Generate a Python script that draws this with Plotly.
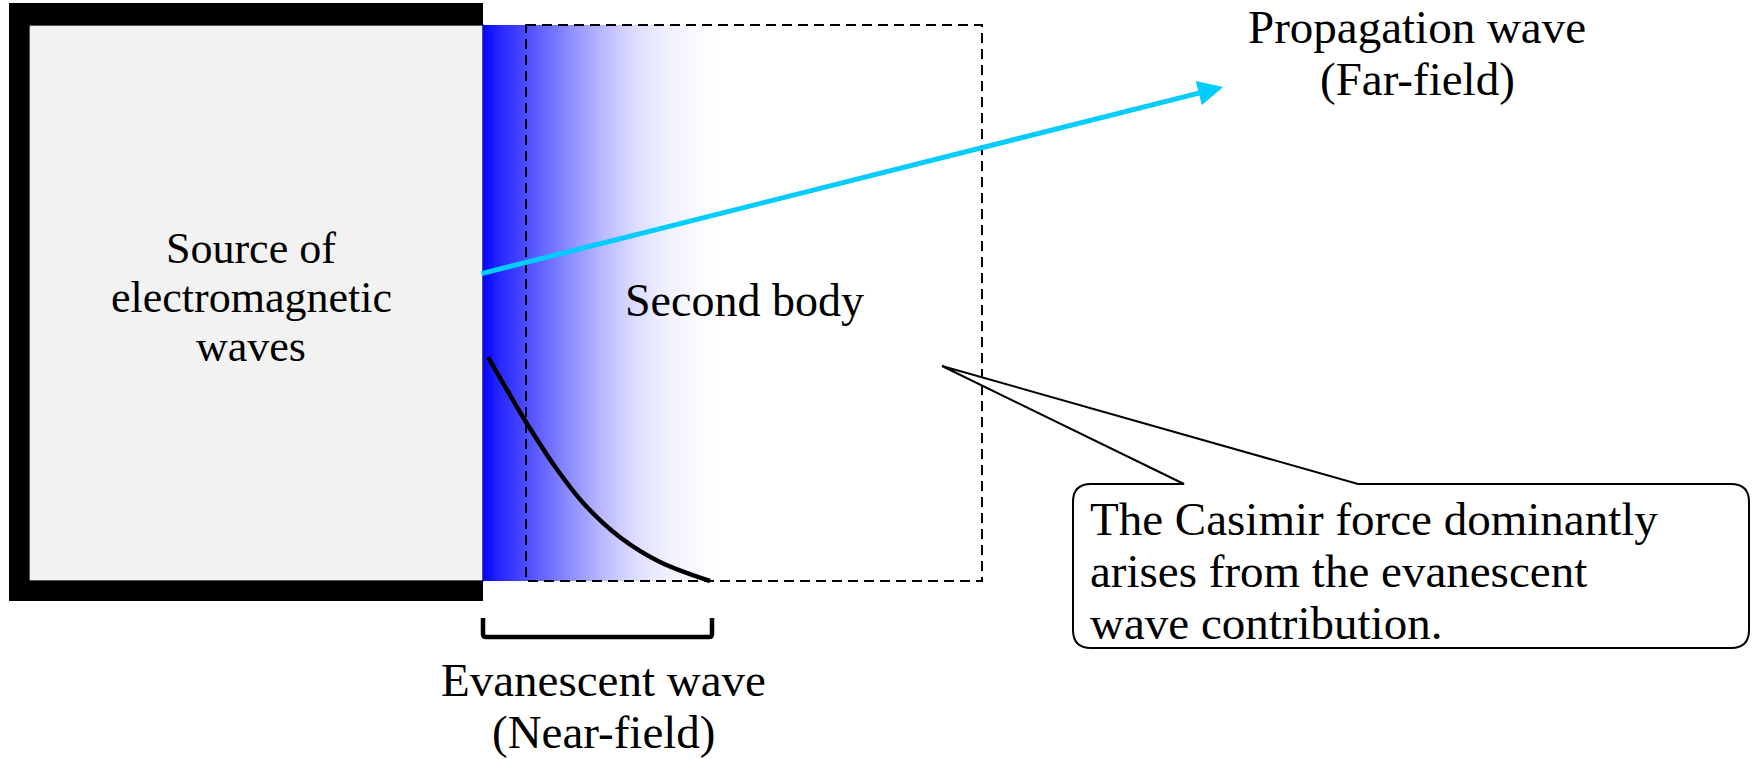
import plotly.graph_objects as go

W, H = 1752, 759
FONT = "Liberation Serif, Times New Roman, serif"

# ---- diagram geometry (pixel coordinates) ----
source_box = dict(x0=9, x1=483, y0=3, y1=601, bar=20)
second_body = dict(x0=526, x1=982, y0=25, y1=581)

# blue evanescent gradient: x positions and lightness (0=blue, 1=white)
grad_x = [483, 500, 526, 550, 570, 600, 637, 670, 700, 720]
grad_light = [0.02, 0.16, 0.30, 0.44, 0.56, 0.72, 0.87, 0.95, 0.985, 1.0]

# evanescent decay curve
curve_x = [488, 507, 526, 556, 585, 621, 660, 710]
curve_y = [357, 390, 422, 468, 505, 538, 562, 581]

# propagation arrow
arrow_start = (480, 274)
arrow_end = (1223, 87)

# labels
source_lines = ["Source of", "electromagnetic", "waves"]
source_y = [248, 297, 346]
prop_lines = ["Propagation wave", "(Far-field)"]
prop_y = [27, 79]
evan_lines = ["Evanescent wave", "(Near-field)"]
evan_y = [680, 732]
callout_lines = ["The Casimir force dominantly", "arises from the evanescent", "wave contribution."]
callout_y = [519, 571, 623]

fig = go.Figure()

# gradient via heatmap with cell edges
n = 120
xs = [grad_x[0] + (grad_x[-1] - grad_x[0]) * i / n for i in range(n + 1)]
def interp(x):
    for i in range(len(grad_x) - 1):
        if grad_x[i] <= x <= grad_x[i + 1]:
            t = (x - grad_x[i]) / (grad_x[i + 1] - grad_x[i])
            return grad_light[i] + t * (grad_light[i + 1] - grad_light[i])
    return grad_light[-1]
zrow = [interp((xs[i] + xs[i + 1]) / 2) for i in range(n)]
fig.add_trace(go.Heatmap(
    x=xs, y=[second_body["y0"], second_body["y1"]], z=[zrow],
    colorscale=[[0, "rgb(0,0,255)"], [1, "rgb(255,255,255)"]],
    zmin=0, zmax=1, showscale=False, hoverinfo="skip", zsmooth="best"))

# evanescent curve
fig.add_trace(go.Scatter(x=curve_x, y=curve_y, mode="lines",
                         line=dict(color="black", width=4.5, shape="spline", smoothing=1.0),
                         hoverinfo="skip", showlegend=False))

shapes = []
sb = source_box
# gray body
shapes.append(dict(type="rect", x0=sb["x0"] + sb["bar"], x1=sb["x1"],
                   y0=sb["y0"] + sb["bar"] + 2, y1=sb["y1"] - sb["bar"],
                   fillcolor="#f2f2f2", line=dict(color="#222", width=1.5), layer="below"))
# black frame bars
shapes.append(dict(type="rect", x0=sb["x0"], x1=sb["x0"] + sb["bar"], y0=sb["y0"], y1=sb["y1"],
                   fillcolor="black", line=dict(width=0)))
shapes.append(dict(type="rect", x0=sb["x0"], x1=sb["x1"], y0=sb["y0"], y1=sb["y0"] + sb["bar"] + 2,
                   fillcolor="black", line=dict(width=0)))
shapes.append(dict(type="rect", x0=sb["x0"], x1=sb["x1"], y0=sb["y1"] - sb["bar"], y1=sb["y1"],
                   fillcolor="black", line=dict(width=0)))
# dashed second body
b = second_body
shapes.append(dict(type="rect", x0=b["x0"], x1=b["x1"], y0=b["y0"], y1=b["y1"],
                   line=dict(color="black", width=2, dash="10px,6px"), layer="above"))
# bracket
shapes.append(dict(type="path", path="M 483,618 L 483,634 Q 483,637 486,637 L 709,637 Q 712,637 712,634 L 712,618",
                   line=dict(color="black", width=4.5)))
# callout bubble
r = 18
bx0, bx1, by0, by1 = 1073, 1749, 484, 648
tip = (942, 366)
path = (f"M {bx0 + r},{by0} L 1184,{by0} L {tip[0]},{tip[1]} L 1358,{by0} "
        f"L {bx1 - r},{by0} Q {bx1},{by0} {bx1},{by0 + r} L {bx1},{by1 - r} "
        f"Q {bx1},{by1} {bx1 - r},{by1} L {bx0 + r},{by1} Q {bx0},{by1} {bx0},{by1 - r} "
        f"L {bx0},{by0 + r} Q {bx0},{by0} {bx0 + r},{by0} Z")
shapes.append(dict(type="path", path=path, fillcolor="white", line=dict(color="black", width=2)))

annotations = []
# arrow
annotations.append(dict(x=arrow_end[0], y=arrow_end[1], ax=arrow_start[0], ay=arrow_start[1],
                        xref="x", yref="y", axref="x", ayref="y", text="", showarrow=True,
                        arrowhead=2, arrowsize=1.0, arrowwidth=5, arrowcolor="#00ccff"))
for t, y in zip(source_lines, source_y):
    annotations.append(dict(x=251, y=y, text=t, showarrow=False, xanchor="center", yanchor="middle",
                            font=dict(family=FONT, size=44, color="black")))
annotations.append(dict(x=744, y=300, text="Second body", showarrow=False, xanchor="center",
                        yanchor="middle", font=dict(family=FONT, size=46, color="black")))
for t, y in zip(prop_lines, prop_y):
    annotations.append(dict(x=1417, y=y, text=t, showarrow=False, xanchor="center", yanchor="middle",
                            font=dict(family=FONT, size=47, color="black")))
for t, y in zip(evan_lines, evan_y):
    annotations.append(dict(x=603, y=y, text=t, showarrow=False, xanchor="center", yanchor="middle",
                            font=dict(family=FONT, size=47, color="black")))
for t, y in zip(callout_lines, callout_y):
    annotations.append(dict(x=1088, y=y, text=t, showarrow=False, xanchor="left", yanchor="middle",
                            font=dict(family=FONT, size=47, color="black")))

fig.update_layout(
    width=W, height=H, margin=dict(l=0, r=0, t=0, b=0),
    paper_bgcolor="white", plot_bgcolor="white", showlegend=False,
    xaxis=dict(range=[0, W], visible=False, fixedrange=True),
    yaxis=dict(range=[H, 0], visible=False, fixedrange=True),
    shapes=shapes, annotations=annotations,
)
fig.write_html("out.html", config={"displayModeBar": False},
               post_script="document.body.style.margin='0';document.body.style.overflow='hidden';")
